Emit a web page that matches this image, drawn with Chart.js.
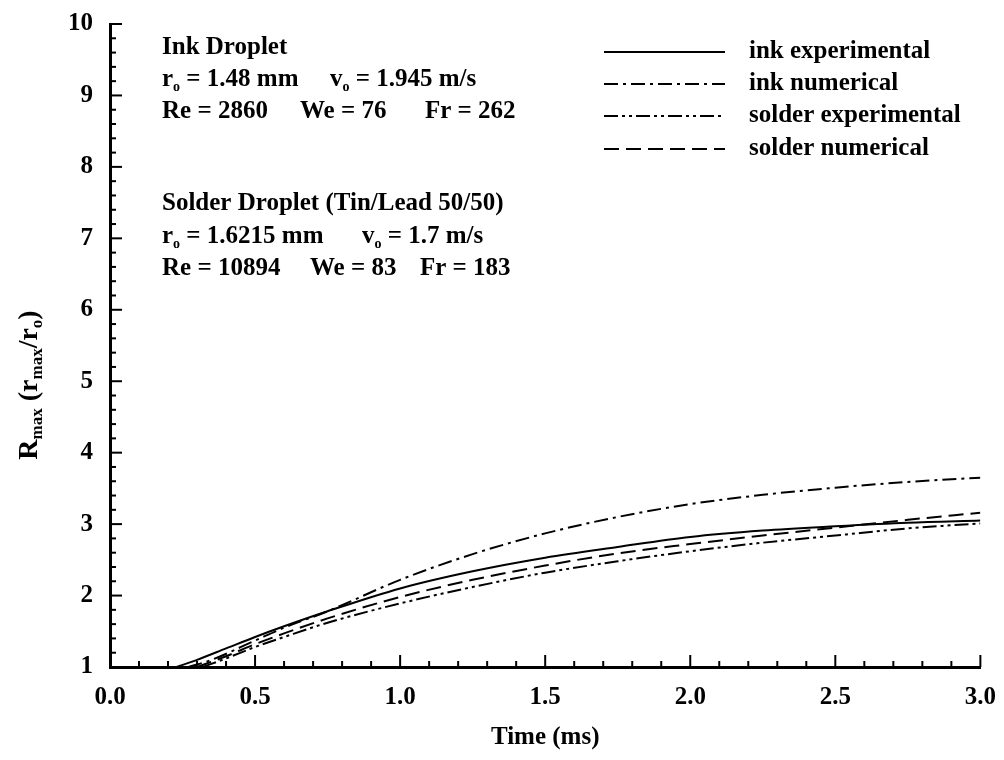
<!DOCTYPE html>
<html>
<head>
<meta charset="utf-8">
<script src="https://cdn.jsdelivr.net/npm/chart.js@4.4.1/dist/chart.umd.min.js"></script>
<style>
  html, body { margin: 0; padding: 0; background: #fff; }
  #wrap { width: 1004px; height: 760px; }
</style>
</head>
<body>
<div id="wrap"><canvas id="chart1" width="1004" height="760"></canvas></div>
<script>
// time (ms) and R_max values
const inkExpT = [0.23, 0.3, 0.4, 0.5, 0.6, 0.75, 1.0, 1.25, 1.5, 1.75, 2.0, 2.25, 2.5, 2.75, 3.0];
const inkExpR = [1.0, 1.1, 1.26, 1.42, 1.57, 1.78, 2.1, 2.34, 2.53, 2.68, 2.82, 2.91, 2.97, 3.02, 3.05];

const inkNumT = [0.27, 0.35, 0.5, 0.6, 0.75, 1.0, 1.25, 1.5, 1.75, 2.0, 2.25, 2.5, 2.75, 3.0];
const inkNumR = [1.0, 1.1, 1.37, 1.55, 1.78, 2.22, 2.58, 2.87, 3.1, 3.28, 3.41, 3.51, 3.59, 3.65];

const solderExpT = [0.32, 0.4, 0.5, 0.6, 0.75, 1.0, 1.25, 1.5, 1.75, 2.0, 2.25, 2.5, 2.75, 3.0];
const solderExpR = [1.0, 1.12, 1.28, 1.42, 1.62, 1.89, 2.12, 2.32, 2.48, 2.62, 2.74, 2.84, 2.94, 3.01];

const solderNumT = [0.3, 0.4, 0.5, 0.6, 0.75, 1.0, 1.25, 1.5, 1.75, 2.0, 2.25, 2.5, 2.75, 3.0];
const solderNumR = [1.0, 1.15, 1.32, 1.47, 1.68, 1.98, 2.22, 2.42, 2.59, 2.72, 2.84, 2.95, 3.06, 3.16];

const seriesNames = ['ink experimental', 'ink numerical', 'solder experimental', 'solder numerical'];
const dashes = [[], [14, 5, 3, 5], [14, 4, 3, 4, 3, 4], [15, 7]];

const FONT = '"Liberation Serif", "Times New Roman", serif';

function pts(t, r) {
    return t.map((x, i) => ({ x: x, y: r[i] }));
}

const allData = [pts(inkExpT, inkExpR), pts(inkNumT, inkNumR), pts(solderExpT, solderExpR), pts(solderNumT, solderNumR)];

// text with subscript pieces: parts = [[text, isSub], ...]
function rich(ctx, x, y, parts, size, subScale) {
    const ss = subScale || 0.55;
    let cx = x;
    parts.forEach(p => {
        if (p[1]) {
            ctx.font = 'bold ' + Math.round(size * ss) + 'px ' + FONT;
            ctx.fillText(p[0], cx, y + size * 0.28);
        } else {
            ctx.font = 'bold ' + size + 'px ' + FONT;
            ctx.fillText(p[0], cx, y);
        }
        cx += ctx.measureText(p[0]).width;
    });
    return cx;
}

const decor = {
    id: 'decor',
    afterDraw(chart) {
        const ctx = chart.ctx;
        const xs = chart.scales.x, ys = chart.scales.y;
        const a = chart.chartArea;
        ctx.save();
        ctx.strokeStyle = '#000';
        ctx.fillStyle = '#000';

        // inward ticks
        ctx.lineWidth = 2;
        for (let i = 0; i <= 45; i++) {
            const py = ys.getPixelForValue(1 + i * 0.2);
            const len = (i % 5 === 0) ? 12 : 6;
            ctx.beginPath(); ctx.moveTo(a.left, py); ctx.lineTo(a.left + len, py); ctx.stroke();
        }
        for (let i = 0; i <= 30; i++) {
            const px = xs.getPixelForValue(i * 0.1);
            const len = (i % 5 === 0) ? 12 : 6;
            ctx.beginPath(); ctx.moveTo(px, a.bottom); ctx.lineTo(px, a.bottom - len); ctx.stroke();
        }

        // annotation text
        const S = 25;
        ctx.textBaseline = 'middle';
        ctx.textAlign = 'left';
        rich(ctx, 162, 48, [['Ink Droplet']], S);
        rich(ctx, 162, 80, [['r'], ['o', 1], [' = 1.48 mm']], S);
        rich(ctx, 330, 80, [['v'], ['o', 1], [' = 1.945 m/s']], S);
        rich(ctx, 162, 112, [['Re = 2860']], S);
        rich(ctx, 300, 112, [['We = 76']], S);
        rich(ctx, 425, 112, [['Fr = 262']], S);
        rich(ctx, 162, 204, [['Solder Droplet (Tin/Lead 50/50)']], S);
        rich(ctx, 162, 237, [['r'], ['o', 1], [' = 1.6215 mm']], S);
        rich(ctx, 362, 237, [['v'], ['o', 1], [' = 1.7 m/s']], S);
        rich(ctx, 162, 269, [['Re = 10894']], S);
        rich(ctx, 310, 269, [['We = 83']], S);
        rich(ctx, 420, 269, [['Fr = 183']], S);

        // legend
        const rows = [52, 84, 116, 149];
        seriesNames.forEach((n, i) => {
            ctx.lineWidth = 2;
            ctx.setLineDash(dashes[i]);
            ctx.beginPath(); ctx.moveTo(604, rows[i]); ctx.lineTo(725, rows[i]); ctx.stroke();
            ctx.setLineDash([]);
            rich(ctx, 749, rows[i], [[n]], S);
        });

        // axis titles
        ctx.textAlign = 'center';
        ctx.font = 'bold ' + S + 'px ' + FONT;
        ctx.fillText('Time (ms)', (a.left + a.right) / 2, 738);

        const T = 28;
        ctx.translate(30, 385);
        ctx.rotate(-Math.PI / 2);
        const parts = [['R'], ['max', 1], [' (r'], ['max', 1], ['/r'], ['o', 1], [')']];
        let w = 0;
        parts.forEach(p => {
            ctx.font = 'bold ' + (p[1] ? Math.round(T * 0.6) : T) + 'px ' + FONT;
            w += ctx.measureText(p[0]).width;
        });
        ctx.textAlign = 'left';
        rich(ctx, -w / 2, 0, parts, T, 0.6);
        ctx.restore();
    }
};

const ctx1 = document.getElementById('chart1').getContext('2d');
const chart1 = new Chart(ctx1, {
    type: 'line',
    data: {
        datasets: allData.map((d, i) => ({
            label: seriesNames[i],
            data: d,
            borderColor: '#000',
            borderWidth: 2,
            borderDash: dashes[i],
            pointRadius: 0,
            fill: false,
            cubicInterpolationMode: 'monotone'
        }))
    },
    options: {
        responsive: false,
        animation: false,
        layout: { padding: { top: 12, right: 18, left: 0, bottom: 0 } },
        plugins: { legend: { display: false }, tooltip: { enabled: false } },
        scales: {
            x: {
                type: 'linear',
                min: 0, max: 3,
                grid: { display: false },
                border: { display: true, color: '#000', width: 3 },
                ticks: {
                    stepSize: 0.5,
                    padding: 8,
                    color: '#000',
                    font: { family: FONT, size: 25, weight: 'bold' },
                    callback: v => v.toFixed(1)
                },
                afterFit: s => { s.height = 93; }
            },
            y: {
                min: 1, max: 10,
                grid: { display: false },
                border: { display: true, color: '#000', width: 3 },
                ticks: {
                    stepSize: 1,
                    padding: 9,
                    color: '#000',
                    font: { family: FONT, size: 25, weight: 'bold' }
                },
                afterFit: s => { s.width = 110; }
            }
        }
    },
    plugins: [decor]
});
</script>
</body>
</html>
